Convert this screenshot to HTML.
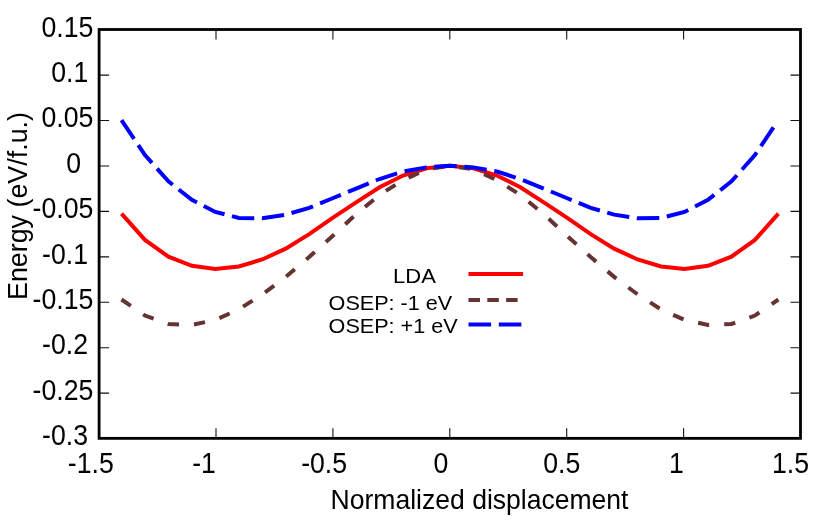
<!DOCTYPE html>
<html><head><meta charset="utf-8"><title>plot</title>
<style>
html,body{margin:0;padding:0;background:#fff;}
svg{display:block;}
text{font-family:"Liberation Sans",sans-serif;font-size:26.67px;fill:#000;}
</style></head><body>
<svg width="822" height="528" viewBox="0 0 822 528">
<defs><mask id="m" maskUnits="userSpaceOnUse" x="0" y="0" width="822" height="528"><rect x="0" y="0" width="822" height="528" fill="#fff"/></mask></defs>
<rect x="0" y="0" width="822" height="528" fill="#fff"/>
<path d="M216.00,438.35 V428.35 M216.00,29.5 V39.50 M332.90,438.35 V428.35 M332.90,29.5 V39.50 M449.80,438.35 V428.35 M449.80,29.5 V39.50 M566.70,438.35 V428.35 M566.70,29.5 V39.50 M683.60,438.35 V428.35 M683.60,29.5 V39.50 M99.1,75.13 H109.10 M800.5,75.13 H790.50 M99.1,120.56 H109.10 M800.5,120.56 H790.50 M99.1,165.98 H109.10 M800.5,165.98 H790.50 M99.1,211.41 H109.10 M800.5,211.41 H790.50 M99.1,256.84 H109.10 M800.5,256.84 H790.50 M99.1,302.27 H109.10 M800.5,302.27 H790.50 M99.1,347.69 H109.10 M800.5,347.69 H790.50 M99.1,393.12 H109.10 M800.5,393.12 H790.50" stroke="#111" stroke-width="1.1" fill="none"/>
<path d="M121.50,213.57 L144.96,239.93 L168.42,256.67 L191.88,265.82 L215.34,268.91 L238.80,266.44 L262.26,259.48 L285.72,248.66 L309.18,234.12 L332.64,217.84 L356.10,202.37 L379.56,187.25 L403.02,175.50 L426.48,168.22 L449.94,165.88 L473.40,168.22 L496.86,175.50 L520.32,187.25 L543.78,202.37 L567.24,217.84 L590.70,234.12 L614.16,248.66 L637.62,259.48 L661.08,266.44 L684.54,268.91 L708.00,265.82 L731.46,256.67 L754.92,239.93 L778.38,213.57" stroke="#ff0000" stroke-width="4" fill="none" stroke-linejoin="miter"/>
<path d="M121.50,299.51 L144.96,315.55 L168.42,323.95 L191.88,324.90 L215.34,319.90 L238.80,309.40 L262.26,294.40 L285.72,276.90 L309.18,257.00 L332.64,236.00 L356.10,214.20 L379.56,194.90 L403.02,180.20 L426.48,169.25 L449.94,165.93 L473.40,169.25 L496.86,180.20 L520.32,194.90 L543.78,214.20 L567.24,236.00 L590.70,257.00 L614.16,276.90 L637.62,294.40 L661.08,309.40 L684.54,319.90 L708.00,324.90 L731.46,323.95 L754.92,315.55 L778.38,299.51" stroke="#663333" stroke-width="4" fill="none" stroke-dasharray="11.3 15.013"/>
<path d="M121.50,120.11 L144.96,155.07 L168.42,181.39 L191.88,199.84 L215.34,211.93 L238.80,217.94 L262.26,218.28 L285.72,214.66 L309.18,207.84 L332.64,198.26 L356.10,188.58 L379.56,179.01 L403.02,171.48 L426.48,167.38 L449.94,165.82 L473.40,167.38 L496.86,171.48 L520.32,179.01 L543.78,188.58 L567.24,198.26 L590.70,207.84 L614.16,214.66 L637.62,218.28 L661.08,217.94 L684.54,211.93 L708.00,199.84 L731.46,181.39 L754.92,155.07 L777.54,121.36" stroke="#0000ff" stroke-width="4" fill="none" stroke-dasharray="22.5 7.65"/>
<rect x="99.1" y="29.5" width="701.40" height="408.85" fill="none" stroke="#000" stroke-width="2.8"/>
<g mask="url(#m)">
<text transform="translate(93.30,36.50) scale(1,1.075)" text-anchor="end">0.15</text>
<text transform="translate(88.30,81.93) scale(1,1.075)" text-anchor="end">0.1</text>
<text transform="translate(93.30,127.36) scale(1,1.075)" text-anchor="end">0.05</text>
<text transform="translate(81.00,172.78) scale(1,1.075)" text-anchor="end">0</text>
<text transform="translate(93.30,218.21) scale(1,1.075)" text-anchor="end">-0.05</text>
<text transform="translate(88.00,263.64) scale(1,1.075)" text-anchor="end">-0.1</text>
<text transform="translate(93.30,309.07) scale(1,1.075)" text-anchor="end">-0.15</text>
<text transform="translate(88.00,354.49) scale(1,1.075)" text-anchor="end">-0.2</text>
<text transform="translate(93.30,399.92) scale(1,1.075)" text-anchor="end">-0.25</text>
<text transform="translate(88.00,445.35) scale(1,1.075)" text-anchor="end">-0.3</text>
<text transform="translate(90.80,472.50) scale(1,1.075)" text-anchor="middle">-1.5</text>
<text transform="translate(204.00,472.50) scale(1,1.075)" text-anchor="middle">-1</text>
<text transform="translate(324.10,472.50) scale(1,1.075)" text-anchor="middle">-0.5</text>
<text transform="translate(441.00,472.50) scale(1,1.075)" text-anchor="middle">0</text>
<text transform="translate(561.70,472.50) scale(1,1.075)" text-anchor="middle">0.5</text>
<text transform="translate(676.30,472.50) scale(1,1.075)" text-anchor="middle">1</text>
<text transform="translate(790.50,472.50) scale(1,1.075)" text-anchor="middle">1.5</text>
<text transform="translate(330.60,509.20) scale(1,1.02)" text-anchor="start" style="font-size:26.55px">Normalized displacement</text>
<text transform="translate(27.00,300.00) rotate(-90) scale(1,1.02)" text-anchor="start" style="font-size:26.85px">Energy (eV/f.u.)</text>
<text transform="translate(393.10,282.60) scale(1,0.945)" text-anchor="start" style="font-size:22.0px">LDA</text>
<text transform="translate(328.60,309.90) scale(1,0.96)" text-anchor="start" style="font-size:21.6px">OSEP: -1 eV</text>
<text transform="translate(328.60,332.90) scale(1,0.96)" text-anchor="start" style="font-size:21.6px">OSEP: +1 eV</text>
</g>
<path d="M468.5,273.9 H523.1" stroke="#ff0000" stroke-width="4"/>
<path d="M468.5,299.95 H523.1" stroke="#663333" stroke-width="4" stroke-dasharray="11.5 7.3"/>
<path d="M468.5,324.6 H523.1" stroke="#0000ff" stroke-width="4" stroke-dasharray="22.6 7.7"/>
</svg></body></html>
